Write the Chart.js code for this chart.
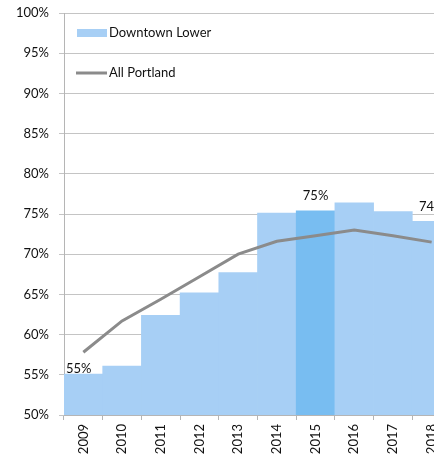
<!DOCTYPE html>
<html>
<head>
<meta charset="utf-8">
<script src="https://cdn.jsdelivr.net/npm/chart.js@4/dist/chart.umd.min.js"></script>
<style>
  html, body { margin: 0; padding: 0; background: #fff; }
  #wrap { width: 434px; height: 456px; overflow: hidden; position: relative; }
  canvas { display: block; }
</style>
</head>
<body>
<div id="wrap"><canvas id="c" width="470" height="480"></canvas></div>
<script>
// Occupancy by year
const years = ['2009', '2010', '2011', '2012', '2013', '2014', '2015', '2016', '2017', '2018'];
const downtownLower = [55.1, 56.1, 62.4, 65.2, 67.7, 75.1, 75.4, 76.4, 75.3, 74.1];
const allPortland = [57.8, 61.7, 64.4, 67.2, 70.0, 71.6, 72.3, 73.0, 72.3, 71.5];
const yTicks = [50, 55, 60, 65, 70, 75, 80, 85, 90, 95, 100];
const labelledYears = ['2009', '2015', '2018'];
const highlightYear = '2015';

const LIGHT = '#a7cff5';
const DARK = '#78bdf1';
const GRAY = '#8b8b8b';
const FONT = 'Lato, "Open Sans", sans-serif';

Chart.defaults.font.family = FONT;
Chart.defaults.font.size = 13;
Chart.defaults.color = '#111';

// In-plot legend, stacked at the upper left
const insideLegend = {
  id: 'insideLegend',
  afterDraw(chart) {
    const { ctx, chartArea } = chart;
    const x0 = chartArea.left + 13;
    ctx.save();
    ctx.font = '13px ' + FONT;
    ctx.textBaseline = 'middle';
    let y = chartArea.top + 20;
    ctx.fillStyle = LIGHT;
    ctx.fillRect(x0, y - 4, 30, 8);
    ctx.fillStyle = '#111';
    ctx.fillText(chart.data.datasets[0].label, x0 + 32, y);
    y += 40;
    ctx.strokeStyle = GRAY;
    ctx.lineWidth = 3;
    ctx.beginPath();
    ctx.moveTo(x0 - 1, y);
    ctx.lineTo(x0 + 30, y);
    ctx.stroke();
    ctx.fillText(chart.data.datasets[1].label, x0 + 32, y);
    ctx.restore();
  }
};

// Percentage labels above selected bars
const barLabels = {
  id: 'barLabels',
  afterDatasetsDraw(chart) {
    const { ctx } = chart;
    const meta = chart.getDatasetMeta(0);
    const vals = chart.data.datasets[0].data;
    ctx.save();
    ctx.font = '13px ' + FONT;
    ctx.fillStyle = '#111';
    ctx.textBaseline = 'bottom';
    chart.data.labels.forEach((lab, i) => {
      if (!labelledYears.includes(lab)) return;
      const bar = meta.data[i];
      const text = Math.round(vals[i]) + '%';
      if (i === 0) {
        ctx.textAlign = 'left';
        ctx.fillText(text, bar.x - bar.width / 2 + 2, bar.y + 1);
      } else {
        ctx.textAlign = 'center';
        ctx.fillText(text, bar.x, bar.y - 8);
      }
    });
    ctx.restore();
  }
};

new Chart(document.getElementById('c'), {
  type: 'bar',
  data: {
    labels: years,
    datasets: [
      {
        type: 'bar',
        label: 'Downtown Lower',
        data: downtownLower,
        backgroundColor: years.map(y => y === highlightYear ? DARK : LIGHT),
        borderWidth: 0,
        categoryPercentage: 1.0,
        barPercentage: 1.0,
        order: 2
      },
      {
        type: 'line',
        label: 'All Portland',
        data: allPortland,
        borderColor: GRAY,
        borderWidth: 3,
        pointRadius: 0,
        tension: 0,
        fill: false,
        order: 1
      }
    ]
  },
  options: {
    responsive: false,
    animation: false,
    devicePixelRatio: 1,
    layout: { padding: { left: 0, top: 13, right: 19, bottom: 0 } },
    plugins: {
      legend: { display: false },
      tooltip: { enabled: false }
    },
    scales: {
      x: {
        offset: true,
        grid: { display: true, drawOnChartArea: false, drawTicks: true, tickLength: 5, color: '#b5b5b5', offset: true },
        border: { color: '#b5b5b5', width: 1 },
        ticks: { minRotation: 90, maxRotation: 90, autoSkip: false, padding: 4, color: '#111', font: { size: 13 } },
        afterFit(scale) { scale.height = 65; }
      },
      y: {
        min: 50,
        max: 100,
        afterBuildTicks(scale) { scale.ticks = yTicks.map(v => ({ value: v })); },
        grid: { color: '#c4c4c4', lineWidth: 1, tickLength: 5 },
        border: { color: '#b5b5b5', width: 1 },
        ticks: { padding: 10, color: '#111', callback: v => v + '%', font: { size: 13 } },
        afterFit(scale) { scale.width = 64; scale.paddingTop = 0; scale.paddingBottom = 0; }
      }
    }
  },
  plugins: [insideLegend, barLabels]
});
</script>
</body>
</html>
